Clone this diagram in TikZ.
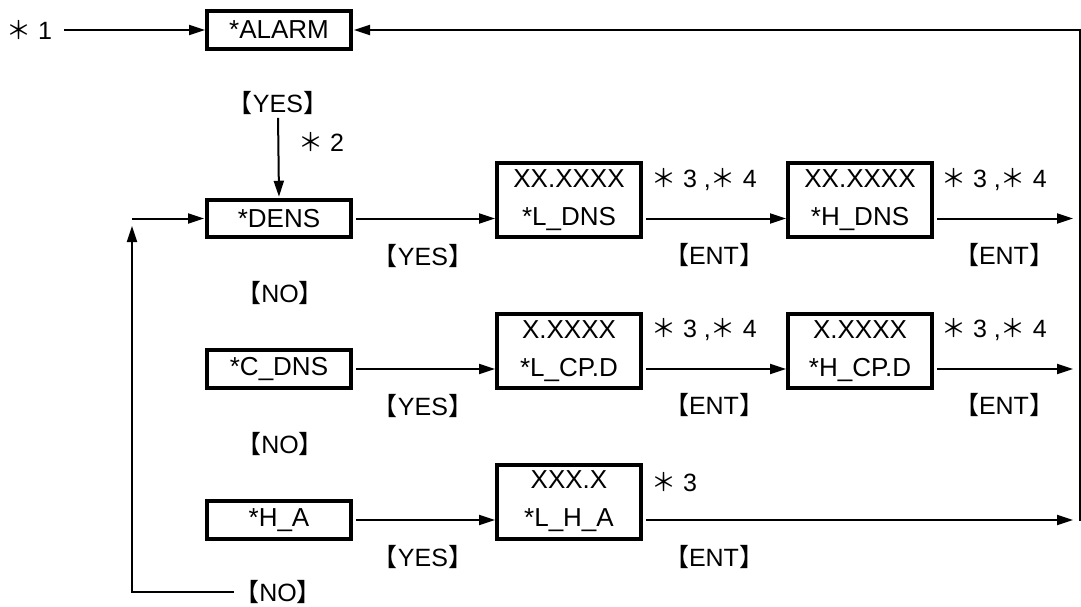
\documentclass[tikz,border=0pt]{standalone}
\usepackage{fontspec}
\setmainfont{Liberation Sans}
\newfontfamily\cjk{Noto Sans CJK JP}
\usetikzlibrary{arrows.meta}
\newcommand{\brk}[1]{{\cjk 【}#1{\cjk 】}}
\newcommand{\myast}{{\cjk ＊}}
\begin{document}
\begin{tikzpicture}[x=1pt,y=-1pt,
  box/.style={draw, line width=4pt, minimum width=144pt, minimum height=37.5pt, inner sep=0pt,
    font=\fontsize{26}{38}\selectfont, align=center},
  box2/.style={box, minimum height=74pt},
  lab/.style={inner sep=0pt, font=\fontsize{25}{28}\selectfont},
  arr/.style={draw, line width=2pt, -{Triangle[length=16pt,width=10pt]}},
  ln/.style={draw, line width=2pt}]
\useasboundingbox (0,0) rectangle (1081,606);
% boxes
\node[box] (alarm) at (279,30) {*ALARM};
\node[box] (dens) at (279,218.5) {*DENS};
\node[box] (cdns) at (279,369) {*C\_DNS};
\node[box] (ha) at (279,520) {*H\_A};
\node[box2] (ldns) at (569,200) {XX.XXXX\\*L\_DNS};
\node[box2] (hdns) at (860,200) {XX.XXXX\\*H\_DNS};
\node[box2] (lcpd) at (569,351) {X.XXXX\\*L\_CP.D};
\node[box2] (hcpd) at (860,351) {X.XXXX\\*H\_CP.D};
\node[box2] (lha) at (569,501.5) {XXX.X\\*L\_H\_A};
% labels
\node[lab, anchor=west] (s1) at (6,30) {\myast\ 1};
\node[lab] (yes0) at (278,103) {\brk{YES}};
\node[lab, anchor=west] (s2) at (298,142) {\myast\ 2};
\node[lab] (yes1) at (423,256) {\brk{YES}};
\node[lab] (ent1a) at (714,255) {\brk{ENT}};
\node[lab] (ent1b) at (1004,255) {\brk{ENT}};
\node[lab] (no1) at (280,293) {\brk{NO}};
\node[lab] (yes2) at (423,406) {\brk{YES}};
\node[lab] (ent2a) at (714,405) {\brk{ENT}};
\node[lab] (ent2b) at (1004,405) {\brk{ENT}};
\node[lab] (no2) at (280,444) {\brk{NO}};
\node[lab] (yes3) at (423,557) {\brk{YES}};
\node[lab] (ent3a) at (714,557) {\brk{ENT}};
\node[lab] (no3) at (278,592) {\brk{NO}};
\node[lab, anchor=west] (n1a) at (651,180) {\myast\ 3 ,\myast\ 4};
\node[lab, anchor=west] (n1b) at (941,180) {\myast\ 3 ,\myast\ 4};
\node[lab, anchor=west] (n2a) at (651,330) {\myast\ 3 ,\myast\ 4};
\node[lab, anchor=west] (n2b) at (941,330) {\myast\ 3 ,\myast\ 4};
\node[lab, anchor=west] (n3a) at (651,482) {\myast\ 3};
% coordinates
\coordinate (r1) at (1073,218.5);
\coordinate (r2) at (1073,369);
\coordinate (r3) at (1073,520);
\coordinate (rb) at (1080,521);
\coordinate (lt) at (132,226);
\coordinate (li) at (132,218.5);
% connectors
\draw[arr, shorten <=12pt] (s1.east) -- (alarm.west);
\draw[arr, shorten >=1pt] (rb) |- (alarm.east);
\draw[arr, shorten <=3pt, shorten >=1pt] (yes0.south) -- (dens.north);
\draw[arr, shorten >=1pt] (li) -- (dens.west);
\draw[arr] (no3.west) -| (lt);
\draw[arr, shorten <=3pt] (dens.east) -- (dens.east -| ldns.west);
\draw[arr, shorten <=3pt] (ldns.east |- dens.east) -- (hdns.west |- dens.east);
\draw[arr, shorten <=3pt] (hdns.east |- dens.east) -- (r1);
\draw[arr, shorten <=3pt] (cdns.east) -- (cdns.east -| lcpd.west);
\draw[arr, shorten <=3pt] (lcpd.east |- cdns.east) -- (hcpd.west |- cdns.east);
\draw[arr, shorten <=3pt] (hcpd.east |- cdns.east) -- (r2);
\draw[arr, shorten <=3pt] (ha.east) -- (ha.east -| lha.west);
\draw[arr, shorten <=3pt] (lha.east |- ha.east) -- (r3);
\end{tikzpicture}
\end{document}
